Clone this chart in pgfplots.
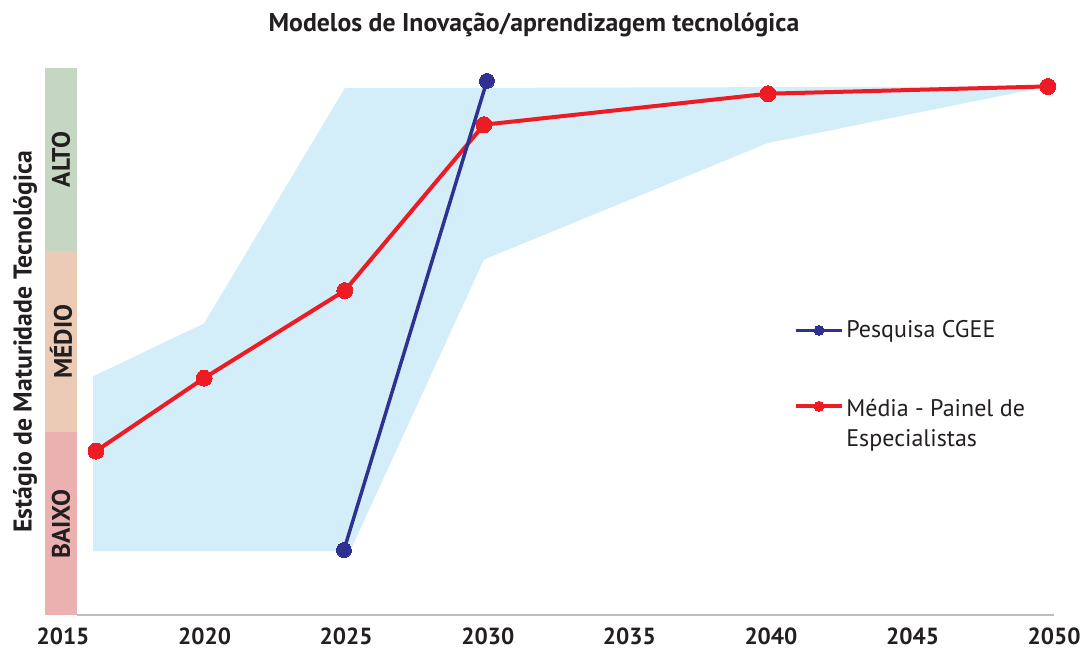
\documentclass[border=0pt]{standalone}
\usepackage{pgfplots}
\pgfplotsset{compat=1.18}
\usepackage{fontspec}
\setmainfont{PT Sans}
\definecolor{bandblue}{HTML}{D4EEF9}
\definecolor{cred}{HTML}{ED1C24}
\definecolor{cblue}{HTML}{2E3192}
\definecolor{calto}{HTML}{C5D7C3}
\definecolor{cmedio}{HTML}{EBCBB6}
\definecolor{cbaixo}{HTML}{EBB1B0}
\definecolor{caxis}{HTML}{BCBEC0}
\definecolor{ctext}{HTML}{231F20}
\begin{document}
\begin{tikzpicture}
\begin{axis}[
  scale only axis,
  width=756.9pt, height=410.25pt,
  xmin=-0.127, xmax=7.0, ymin=0, ymax=3,
  clip=false,
  axis line style={draw=none},
  ytick=\empty,
  xtick={0,1,2,3,4,5,6,7},
  xticklabels={2015,2020,2025,2030,2035,2040,2045,2050},
  major tick length=0pt,
  /pgf/number format/assume math mode=true,
  xticklabel style={font=\fontsize{17.5}{20}\selectfont\bfseries, text=ctext, anchor=north, yshift=-6pt},
  legend style={at={(axis cs:5.135,1.645)}, anchor=north west, draw=none, fill=none,
     font=\fontsize{18}{23}\selectfont, text=ctext, cells={anchor=west}, row sep=37pt},
  reverse legend,
  legend image code/.code={\draw[mark repeat=2,mark phase=2,#1,mark size=3.75pt] plot coordinates {(0pt,0pt) (17pt,0pt) (34pt,0pt)};},
]
% maturity strips
\fill[cbaixo] (axis cs:-0.127,0) rectangle (axis cs:0.099,1.004);
\fill[cmedio] (axis cs:-0.127,1.004) rectangle (axis cs:0.099,2.0);
\fill[calto] (axis cs:-0.127,2.0) rectangle (axis cs:0.099,3.0);
\draw[caxis, line width=2pt] (axis cs:0.099,0) -- (axis cs:7.0,0);
\node[rotate=90, font=\fontsize{19}{22}\selectfont\bfseries, text=ctext] at (axis cs:-0.014,0.5) {BAIXO};
\node[rotate=90, font=\fontsize{19}{22}\selectfont\bfseries, text=ctext] at (axis cs:-0.014,1.5) {MÉDIO};
\node[rotate=90, font=\fontsize{19}{22}\selectfont\bfseries, text=ctext] at (axis cs:-0.014,2.5) {ALTO};
\node[rotate=90, font=\fontsize{19.3}{22}\selectfont\bfseries, text=ctext] at (axis cs:-0.268,1.5) {Estágio de Maturidade Tecnológica};
\node[font=\fontsize{19.3}{22}\selectfont\bfseries, text=ctext] at (axis cs:3.326,3.236) {Modelos de Inovação/aprendizagem tecnológica};
% range band
\addplot[fill=bandblue, draw=none, forget plot] coordinates {
 (0.212,1.31) (0.996,1.60) (1.99,2.89) (6.956,2.90) (4.979,2.59) (2.973,1.95) (2.027,0.35) (0.212,0.35)} -- cycle;
% red
\addplot[cred, line width=3pt, mark=*, mark size=6pt, mark options={fill=cred, draw=cred, line width=0pt}] coordinates {
 (0.233,0.90) (0.996,1.30) (1.99,1.78) (2.973,2.69) (4.979,2.86) (6.956,2.90)};
\addlegendentry{\begin{tabular}[t]{@{}l@{}}Média - Painel de\\Especialistas\end{tabular}}
% blue
\addplot[cblue, line width=2.6pt, mark=*, mark size=5.6pt, mark options={fill=cblue, draw=cblue, line width=0pt}] coordinates {
 (1.984,0.357) (2.994,2.93)};
\addlegendentry{Pesquisa CGEE}
\coordinate (BL) at (axis cs:-0.445,-0.1865);
\coordinate (TR) at (axis cs:7.232,3.374);
\end{axis}
\pgfresetboundingbox
\path (BL) rectangle (TR);
\end{tikzpicture}
\end{document}
